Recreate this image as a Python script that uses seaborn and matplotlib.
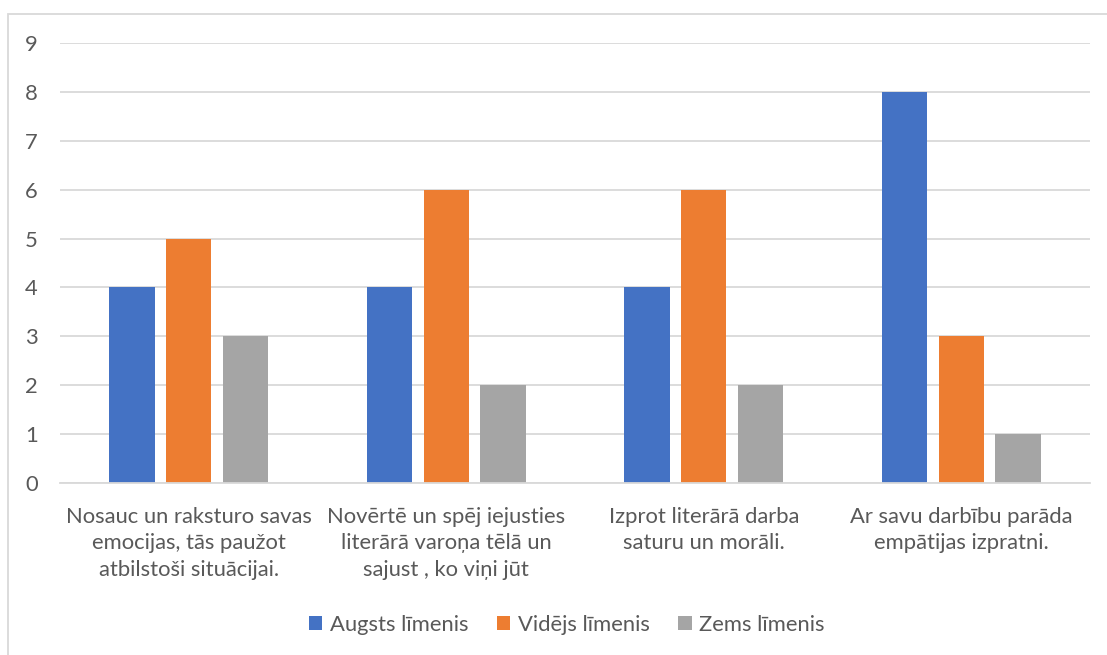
import matplotlib
matplotlib.use("Agg")
import matplotlib.pyplot as plt
from matplotlib.patches import Rectangle
import seaborn as sns
import pandas as pd

# data
categories = [
    "Nosauc un raksturo savas\nemocijas, tās paužot\natbilstoši situācijai.",
    "Novērtē un spēj iejusties\nliterārā varoņa tēlā un\nsajust , ko viņi jūt",
    "Izprot literārā darba\nsaturu un morāli.",
    "Ar savu darbību parāda\nempātijas izpratni.",
]
series_names = ["Augsts līmenis", "Vidējs līmenis", "Zems līmenis"]
augsts = [4, 4, 4, 8]
videjs = [5, 6, 6, 3]
zems = [3, 2, 2, 1]
y_ticks = list(range(0, 10))

colors = ["#4472C4", "#ED7D31", "#A5A5A5"]
text_color = "#595959"
grid_color = "#D9D9D9"

df = pd.DataFrame(
    {
        "kategorija": categories * 3,
        "līmenis": [series_names[0]] * 4 + [series_names[1]] * 4 + [series_names[2]] * 4,
        "vērtība": augsts + videjs + zems,
    }
)

sns.set_theme(style="white")
plt.rcParams["font.family"] = ["Lato", "DejaVu Sans"]

W, H = 1107, 655
fig = plt.figure(figsize=(W / 100, H / 100), dpi=100)
ax = fig.add_axes([60 / W, 1 - 483 / H, (1090 - 60) / W, (483 - 43) / H])

sns.barplot(
    data=df,
    x="kategorija",
    y="vērtība",
    hue="līmenis",
    palette=colors,
    width=0.66,
    gap=0.2,
    saturation=1,
    linewidth=0,
    ax=ax,
    legend=True,
)

ax.set_ylim(0, 9)
ax.set_yticks(y_ticks)
ax.set_xlim(-0.5, len(categories) - 0.5)
ax.yaxis.grid(True, color=grid_color, linewidth=1.3)
ax.set_axisbelow(True)
for s in ["top", "right", "left"]:
    ax.spines[s].set_visible(False)
ax.spines["bottom"].set_color(grid_color)
ax.spines["bottom"].set_linewidth(1.3)
ax.set_xlabel("")
ax.set_ylabel("")
ax.tick_params(axis="both", length=0, colors=text_color, labelsize=15.8)
ax.tick_params(axis="y", pad=16)
ax.tick_params(axis="x", pad=17)
for lbl in ax.get_xticklabels():
    lbl.set_linespacing(1.42)

ax.legend(
    loc="center",
    bbox_to_anchor=(567 / W, 1 - 625 / H),
    bbox_transform=fig.transFigure,
    ncol=3,
    frameon=False,
    fontsize=15.8,
    labelcolor=text_color,
    handlelength=0.6,
    handleheight=0.6,
    handletextpad=0.35,
    columnspacing=1.3,
)

# chart area border
fig.patches.append(
    Rectangle(
        (8 / W, -0.1),
        1.2,
        1 - 14 / H + 0.1,
        transform=fig.transFigure,
        fill=False,
        edgecolor=grid_color,
        linewidth=1.3,
    )
)

fig.savefig("out.png", dpi=100)
